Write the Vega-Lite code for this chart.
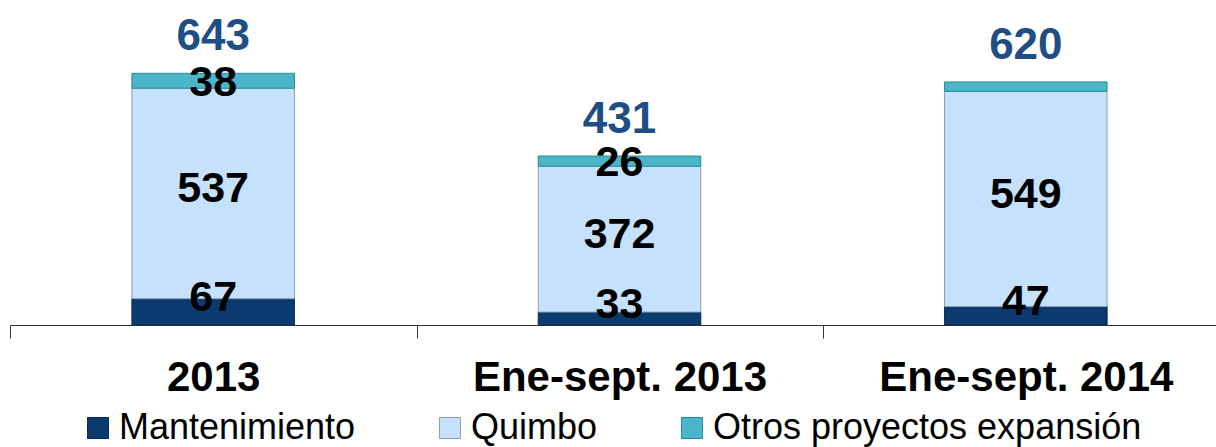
{
  "$schema": "https://vega.github.io/schema/vega-lite/v6.json",
  "autosize": "none",
  "padding": {"left": 10, "top": 0, "right": 0, "bottom": 122},
  "width": 1219,
  "height": 325,
  "background": "white",
  "config": {
    "view": {"stroke": null},
    "font": "Liberation Sans"
  },
  "datasets": {
    "segs": [
      {"periodo": "2013", "serie": "Mantenimiento", "orden": 1, "valor": 67},
      {"periodo": "2013", "serie": "Quimbo", "orden": 2, "valor": 537},
      {"periodo": "2013", "serie": "Otros proyectos expansión", "orden": 3, "valor": 38},
      {"periodo": "Ene-sept. 2013", "serie": "Mantenimiento", "orden": 1, "valor": 33},
      {"periodo": "Ene-sept. 2013", "serie": "Quimbo", "orden": 2, "valor": 372},
      {"periodo": "Ene-sept. 2013", "serie": "Otros proyectos expansión", "orden": 3, "valor": 26},
      {"periodo": "Ene-sept. 2014", "serie": "Mantenimiento", "orden": 1, "valor": 47},
      {"periodo": "Ene-sept. 2014", "serie": "Quimbo", "orden": 2, "valor": 549},
      {"periodo": "Ene-sept. 2014", "serie": "Otros proyectos expansión", "orden": 3, "valor": 24}
    ],
    "totals": [
      {"periodo": "2013", "total": 643},
      {"periodo": "Ene-sept. 2013", "total": 431},
      {"periodo": "Ene-sept. 2014", "total": 620}
    ]
  },
  "layer": [
    {
      "data": {"name": "segs"},
      "mark": {"type": "bar", "strokeWidth": 1},
      "encoding": {
        "x": {
          "field": "periodo", "type": "nominal",
          "sort": ["2013", "Ene-sept. 2013", "Ene-sept. 2014"],
          "scale": {"paddingInner": 0.6, "paddingOuter": 0.3},
          "axis": {
            "title": null, "labelAngle": 0, "labelFontSize": 42, "labelFontWeight": "bold",
            "labelColor": "#000000", "labelFont": "Liberation Sans", "labelPadding": 19,
            "labelLimit": 1000,
            "domainColor": "#333333", "domainWidth": 1, "tickColor": "#333333",
            "tickSize": 13, "tickWidth": 1, "tickOffset": -203, "labelOffset": 203
          }
        },
        "y": {
          "field": "valor", "type": "quantitative", "stack": "zero",
          "scale": {"domain": [0, 829], "nice": false},
          "axis": null
        },
        "order": {"field": "orden", "type": "quantitative"},
        "color": {
          "field": "serie", "type": "nominal",
          "scale": {
            "domain": ["Mantenimiento", "Quimbo", "Otros proyectos expansión"],
            "range": ["#0A3A6E", "#C5E1FB", "#4BB6C9"]
          },
          "legend": {
            "title": null, "orient": "none", "direction": "horizontal",
            "legendX": 70, "legendY": 410,
            "labelFontSize": 36, "labelFont": "Liberation Sans", "labelColor": "#000000",
            "labelLimit": 1000,
            "symbolType": "square", "symbolSize": 441, "labelOffset": 3,
            "columnPadding": 76, "symbolStrokeWidth": 1
          }
        },
        "stroke": {
          "field": "serie", "type": "nominal",
          "scale": {
            "domain": ["Mantenimiento", "Quimbo", "Otros proyectos expansión"],
            "range": ["#062A52", "#8A9DB8", "#2C8A9C"]
          }
        }
      }
    },
    {
      "data": {"name": "segs"},
      "transform": [
        {"stack": "valor", "groupby": ["periodo"], "sort": [{"field": "orden"}], "as": ["s0", "s1"]},
        {"calculate": "(datum.s0 + datum.s1) / 2", "as": "mid"},
        {"filter": "datum.serie == 'Mantenimiento'"}
      ],
      "mark": {"type": "text", "fontSize": 43, "fontWeight": "bold", "color": "#000000", "baseline": "middle", "dy": -14},
      "encoding": {
        "x": {"field": "periodo", "type": "nominal", "sort": ["2013", "Ene-sept. 2013", "Ene-sept. 2014"]},
        "y": {"field": "mid", "type": "quantitative"},
        "text": {"field": "valor", "type": "quantitative"}
      }
    },
    {
      "data": {"name": "segs"},
      "transform": [
        {"stack": "valor", "groupby": ["periodo"], "sort": [{"field": "orden"}], "as": ["s0", "s1"]},
        {"calculate": "(datum.s0 + datum.s1) / 2", "as": "mid"},
        {"filter": "datum.serie == 'Quimbo'"}
      ],
      "mark": {"type": "text", "fontSize": 43, "fontWeight": "bold", "color": "#000000", "baseline": "middle", "dy": -4},
      "encoding": {
        "x": {"field": "periodo", "type": "nominal", "sort": ["2013", "Ene-sept. 2013", "Ene-sept. 2014"]},
        "y": {"field": "mid", "type": "quantitative"},
        "text": {"field": "valor", "type": "quantitative"}
      }
    },
    {
      "data": {"name": "segs"},
      "transform": [
        {"stack": "valor", "groupby": ["periodo"], "sort": [{"field": "orden"}], "as": ["s0", "s1"]},
        {"calculate": "(datum.s0 + datum.s1) / 2", "as": "mid"},
        {"filter": "datum.serie == 'Otros proyectos expansión' && datum.periodo != 'Ene-sept. 2014'"}
      ],
      "mark": {"type": "text", "fontSize": 43, "fontWeight": "bold", "color": "#000000", "baseline": "middle", "dy": 2},
      "encoding": {
        "x": {"field": "periodo", "type": "nominal", "sort": ["2013", "Ene-sept. 2013", "Ene-sept. 2014"]},
        "y": {"field": "mid", "type": "quantitative"},
        "text": {"field": "valor", "type": "quantitative"}
      }
    },
    {
      "data": {"name": "totals"},
      "mark": {"type": "text", "fontSize": 44, "fontWeight": "bold", "color": "#1F4E85", "baseline": "alphabetic", "dy": -23},
      "encoding": {
        "x": {"field": "periodo", "type": "nominal", "sort": ["2013", "Ene-sept. 2013", "Ene-sept. 2014"]},
        "y": {"field": "total", "type": "quantitative"},
        "text": {"field": "total", "type": "quantitative"}
      }
    }
  ]
}
